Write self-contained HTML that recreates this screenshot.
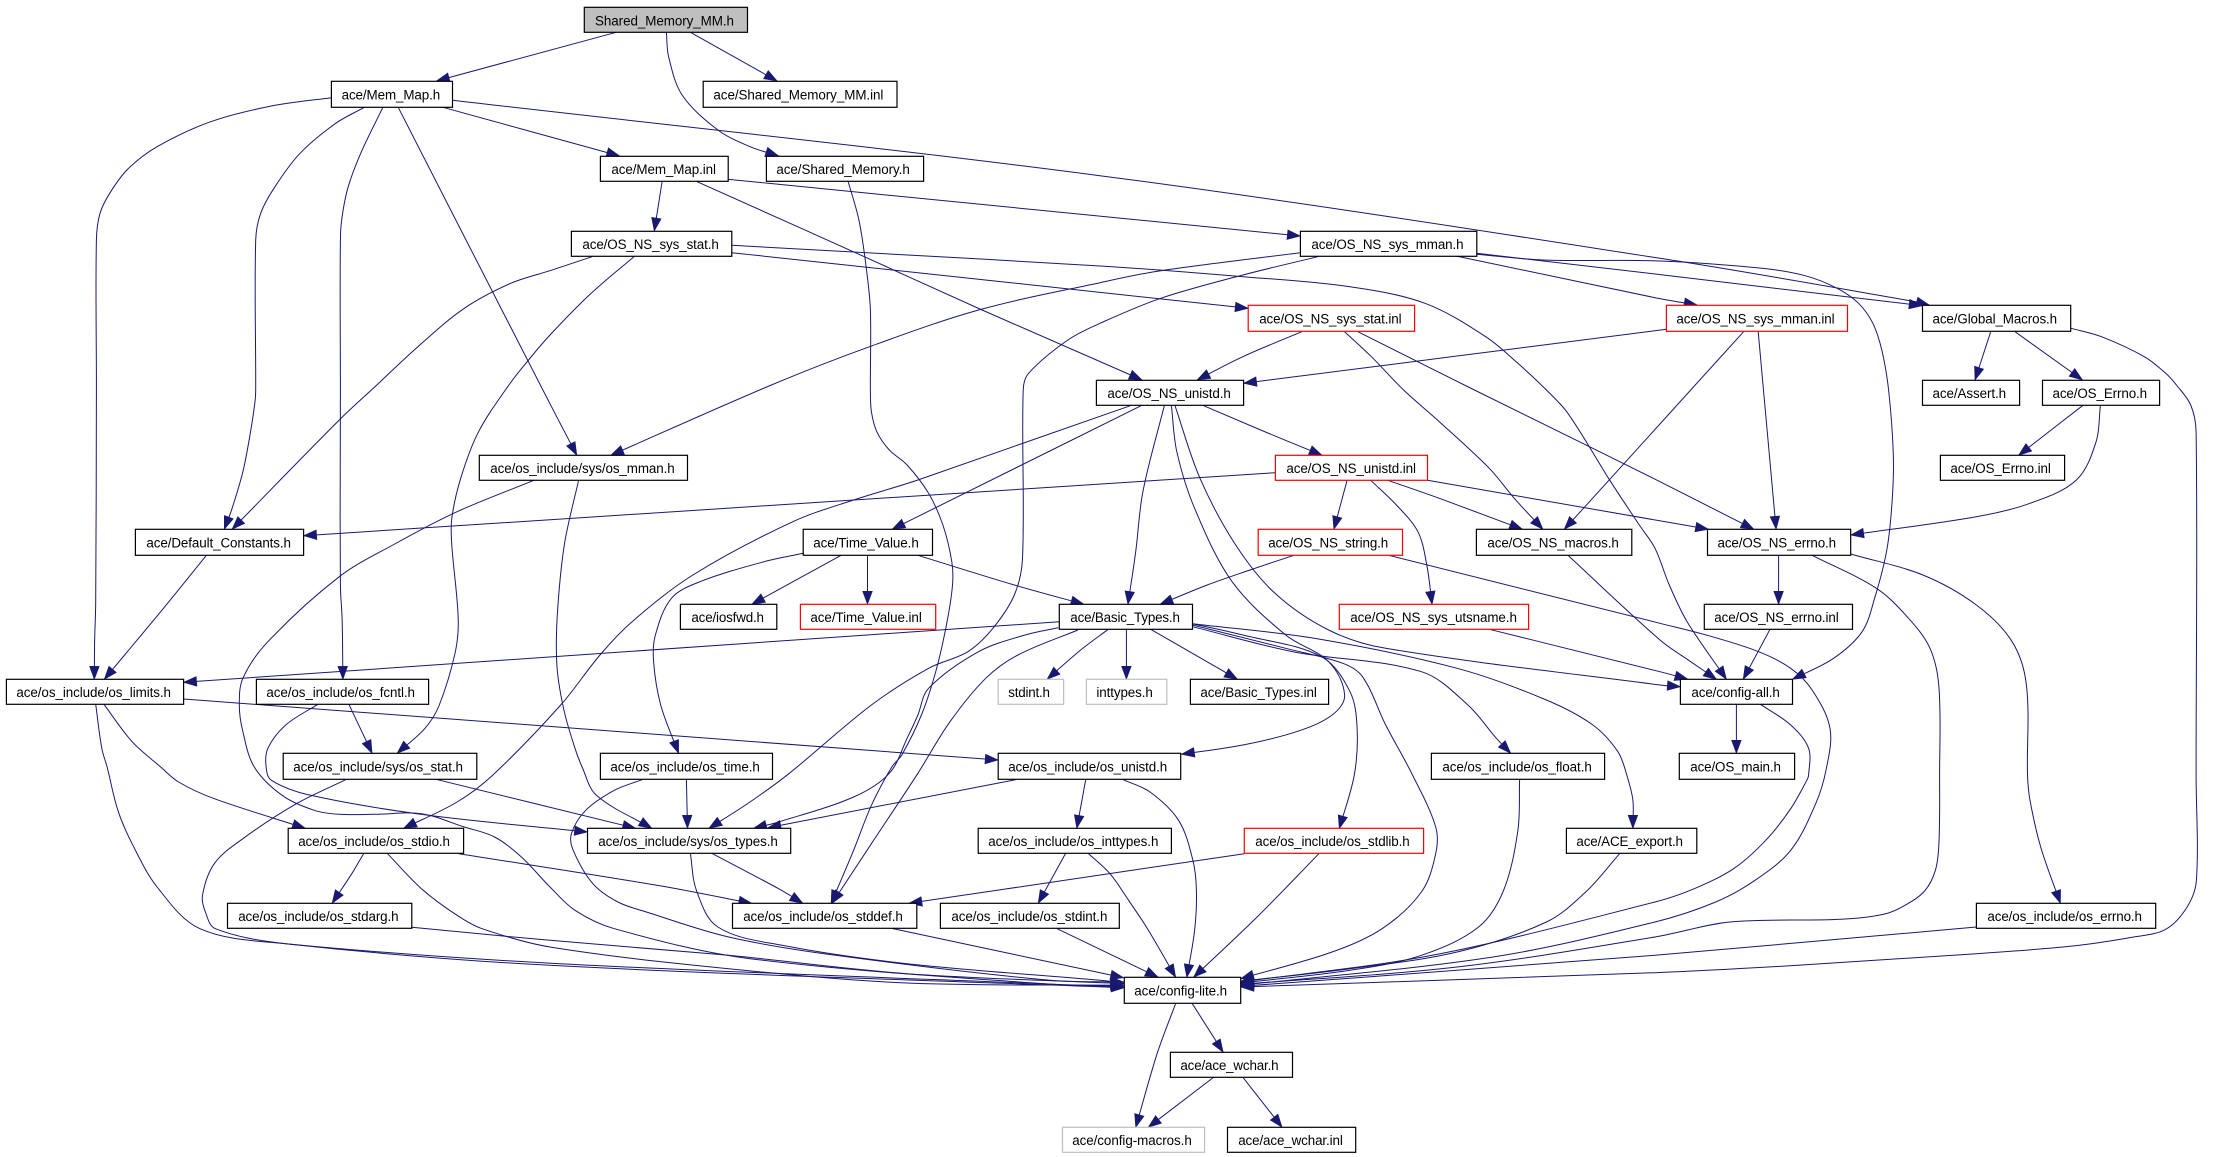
<!DOCTYPE html>
<html>
<head>
<meta charset="utf-8">
<style>
html,body{margin:0;padding:0;background:#fff}
svg{display:block}
rect{fill:#fff;stroke:#000;stroke-width:1.2}
rect.r{stroke:#f00}
rect.g{stroke:#bfbfbf}
rect.root{fill:#bfbfbf}
text{font-family:"Liberation Sans",sans-serif;font-size:13.4px;fill:#000}
#e path{fill:none;stroke:#191970;stroke-width:1}
#e polygon{fill:#191970;stroke:#191970;stroke-width:.6}
</style>
</head>
<body>
<svg id="s" xmlns="http://www.w3.org/2000/svg" width="2215" height="1157" viewBox="0 0 2215 1157">
<g id="e"></g>
<g id="n">
<rect class="root" x="584.3" y="7.3" width="163.2" height="25"/><text x="595" y="25.3" textLength="139" lengthAdjust="spacing">Shared_Memory_MM.h</text>
<rect x="331.4" y="81.3" width="121.1" height="26"/><text x="341.6" y="99.3" textLength="98.6" lengthAdjust="spacing">ace/Mem_Map.h</text>
<rect x="703.2" y="81.3" width="193.8" height="26"/><text x="713.4" y="99.3" textLength="170" lengthAdjust="spacing">ace/Shared_Memory_MM.inl</text>
<rect x="600.4" y="156.3" width="127.8" height="25"/><text x="611.4" y="174" textLength="104.6" lengthAdjust="spacing">ace/Mem_Map.inl</text>
<rect x="766.4" y="156.3" width="157.2" height="25"/><text x="776.4" y="174" textLength="133.4" lengthAdjust="spacing">ace/Shared_Memory.h</text>
<rect x="571.4" y="231.3" width="160.4" height="25"/><text x="582.4" y="249" textLength="136.4" lengthAdjust="spacing">ace/OS_NS_sys_stat.h</text>
<rect x="1300.4" y="231.3" width="176.4" height="25"/><text x="1311.4" y="249" textLength="152.2" lengthAdjust="spacing">ace/OS_NS_sys_mman.h</text>
<rect class="r" x="1248.2" y="305.3" width="166.4" height="26"/><text x="1259.2" y="323.3" textLength="142.4" lengthAdjust="spacing">ace/OS_NS_sys_stat.inl</text>
<rect class="r" x="1666.4" y="305.3" width="181.1" height="26"/><text x="1676.4" y="323.3" textLength="158.2" lengthAdjust="spacing">ace/OS_NS_sys_mman.inl</text>
<rect x="1922.5" y="305.3" width="148.2" height="26"/><text x="1932.5" y="323.3" textLength="124.6" lengthAdjust="spacing">ace/Global_Macros.h</text>
<rect x="1096.4" y="380.3" width="147.2" height="25"/><text x="1107.4" y="398" textLength="123.4" lengthAdjust="spacing">ace/OS_NS_unistd.h</text>
<rect x="1922.5" y="380.3" width="97.1" height="25"/><text x="1932.5" y="398" textLength="73.6" lengthAdjust="spacing">ace/Assert.h</text>
<rect x="2042.5" y="380.3" width="117.1" height="25"/><text x="2052.5" y="398" textLength="94.6" lengthAdjust="spacing">ace/OS_Errno.h</text>
<rect x="479.3" y="455.3" width="208.2" height="25"/><text x="490.3" y="473" textLength="184.4" lengthAdjust="spacing">ace/os_include/sys/os_mman.h</text>
<rect class="r" x="1275.4" y="455.3" width="152.1" height="25"/><text x="1286.4" y="473" textLength="129.6" lengthAdjust="spacing">ace/OS_NS_unistd.inl</text>
<rect x="1940.4" y="455.3" width="124.2" height="25"/><text x="1950.4" y="473" textLength="100.4" lengthAdjust="spacing">ace/OS_Errno.inl</text>
<rect x="135.4" y="529.3" width="168.2" height="26"/><text x="146.4" y="547.3" textLength="144.6" lengthAdjust="spacing">ace/Default_Constants.h</text>
<rect x="803.2" y="529.3" width="129.3" height="26"/><text x="813.2" y="547.3" textLength="105.6" lengthAdjust="spacing">ace/Time_Value.h</text>
<rect class="r" x="1258.2" y="529.3" width="144.3" height="26"/><text x="1268.2" y="547.3" textLength="120" lengthAdjust="spacing">ace/OS_NS_string.h</text>
<rect x="1476.4" y="529.3" width="155.4" height="26"/><text x="1487.4" y="547.3" textLength="131.4" lengthAdjust="spacing">ace/OS_NS_macros.h</text>
<rect x="1707.5" y="529.3" width="143.2" height="26"/><text x="1717.5" y="547.3" textLength="118.6" lengthAdjust="spacing">ace/OS_NS_errno.h</text>
<rect x="680.4" y="604.3" width="96.4" height="25"/><text x="691.4" y="622" textLength="72.6" lengthAdjust="spacing">ace/iosfwd.h</text>
<rect class="r" x="800.4" y="604.3" width="135.3" height="25"/><text x="810.4" y="622" textLength="111.4" lengthAdjust="spacing">ace/Time_Value.inl</text>
<rect x="1059.3" y="604.3" width="133.2" height="25"/><text x="1070.3" y="622" textLength="109.6" lengthAdjust="spacing">ace/Basic_Types.h</text>
<rect class="r" x="1339.3" y="604.3" width="189.3" height="25"/><text x="1350.3" y="622" textLength="166.6" lengthAdjust="spacing">ace/OS_NS_sys_utsname.h</text>
<rect x="1704.3" y="604.3" width="148.2" height="25"/><text x="1714.3" y="622" textLength="124.4" lengthAdjust="spacing">ace/OS_NS_errno.inl</text>
<rect x="6.4" y="679.3" width="177.2" height="25"/><text x="16.4" y="697" textLength="154.6" lengthAdjust="spacing">ace/os_include/os_limits.h</text>
<rect x="256.4" y="679.3" width="172.2" height="25"/><text x="266.4" y="697" textLength="148.6" lengthAdjust="spacing">ace/os_include/os_fcntl.h</text>
<rect class="g" x="998.2" y="679.3" width="65.4" height="25"/><text x="1008.2" y="697" textLength="41.8" lengthAdjust="spacing">stdint.h</text>
<rect class="g" x="1086.4" y="679.3" width="80.4" height="25"/><text x="1096.4" y="697" textLength="56.4" lengthAdjust="spacing">inttypes.h</text>
<rect x="1190.4" y="679.3" width="138.2" height="25"/><text x="1200.4" y="697" textLength="116.4" lengthAdjust="spacing">ace/Basic_Types.inl</text>
<rect x="1680.4" y="679.3" width="112.1" height="25"/><text x="1691.4" y="697" textLength="88.4" lengthAdjust="spacing">ace/config-all.h</text>
<rect x="283.2" y="753.3" width="193.6" height="26"/><text x="293.2" y="771.3" textLength="169.8" lengthAdjust="spacing">ace/os_include/sys/os_stat.h</text>
<rect x="600.4" y="753.3" width="172.1" height="26"/><text x="610.4" y="771.3" textLength="149.4" lengthAdjust="spacing">ace/os_include/os_time.h</text>
<rect x="998.2" y="753.3" width="182.5" height="26"/><text x="1008.2" y="771.3" textLength="159" lengthAdjust="spacing">ace/os_include/os_unistd.h</text>
<rect x="1431.4" y="753.3" width="173.2" height="26"/><text x="1442.4" y="771.3" textLength="149.4" lengthAdjust="spacing">ace/os_include/os_float.h</text>
<rect x="1679.3" y="753.3" width="115.3" height="26"/><text x="1690.3" y="771.3" textLength="90.6" lengthAdjust="spacing">ace/OS_main.h</text>
<rect x="288.2" y="828.3" width="175.4" height="25"/><text x="298.2" y="846" textLength="151.8" lengthAdjust="spacing">ace/os_include/os_stdio.h</text>
<rect x="587.5" y="828.3" width="203.2" height="25"/><text x="598.2" y="846" textLength="179.6" lengthAdjust="spacing">ace/os_include/sys/os_types.h</text>
<rect x="978.2" y="828.3" width="193.2" height="25"/><text x="988.2" y="846" textLength="170.2" lengthAdjust="spacing">ace/os_include/os_inttypes.h</text>
<rect class="r" x="1244.3" y="828.3" width="179.3" height="25"/><text x="1255.3" y="846" textLength="154.4" lengthAdjust="spacing">ace/os_include/os_stdlib.h</text>
<rect x="1566.4" y="828.3" width="130.4" height="25"/><text x="1576.4" y="846" textLength="106.6" lengthAdjust="spacing">ace/ACE_export.h</text>
<rect x="227.5" y="903.3" width="184.3" height="25"/><text x="238.2" y="921" textLength="160.4" lengthAdjust="spacing">ace/os_include/os_stdarg.h</text>
<rect x="732.5" y="903.3" width="184.3" height="25"/><text x="743.2" y="921" textLength="159.6" lengthAdjust="spacing">ace/os_include/os_stddef.h</text>
<rect x="940.4" y="903.3" width="178.9" height="25"/><text x="951.4" y="921" textLength="156" lengthAdjust="spacing">ace/os_include/os_stdint.h</text>
<rect x="1976.4" y="903.3" width="179.3" height="25"/><text x="1987.4" y="921" textLength="154.6" lengthAdjust="spacing">ace/os_include/os_errno.h</text>
<rect x="1124.3" y="977.3" width="116.4" height="26"/><text x="1134.3" y="995.3" textLength="92.8" lengthAdjust="spacing">ace/config-lite.h</text>
<rect x="1170.4" y="1052.3" width="122.1" height="25"/><text x="1180.4" y="1070" textLength="98.2" lengthAdjust="spacing">ace/ace_wchar.h</text>
<rect class="g" x="1062.5" y="1127.3" width="142.1" height="25"/><text x="1072.2" y="1145" textLength="119.6" lengthAdjust="spacing">ace/config-macros.h</text>
<rect x="1227.5" y="1127.3" width="128.2" height="25"/><text x="1238.2" y="1145" textLength="104.6" lengthAdjust="spacing">ace/ace_wchar.inl</text>
</g>
</svg>
<script>
var E=`2 185,97 1 1222,243
2 393,97 636,243
2 326,97 332,170 370,285 470,390 560,440 640,468
1 1240,322 2 195,468
1 1267,301 3 0,527 1568,775 4 730,905 768,915
3 1055,760 4 0,822 748,917
3 1055,763 1240,780 1568,783 4 300,805 420,827 510,865 570,910 610,970 635,1050 654,1170 8 667,200 665,330 650,490 615,640 580,740 500,820 385,883
3 1000,769 4 0,893 118,915
1 928,293 760,318 590,365 440,440 360,505 310,575 280,640 270,720 270,1170 5 268,650 265,770 264,883
1 1020,322 940,370 840,460 770,560 730,640 716,720 716,1170 5 714,50 700,150 680,260 650,370 628,433
1 1072,322 1010,460 975,560 958,650 953,720 953,1170 5 953,600 958,700 960,883
1 1115,322 1520,1170 6 75,211
2 314,545 292,693
2 499,538 3 561,708
2 412,545 880,770 1210,930 3 118,1140
2 835,545 865,660 885,800 897,930 897,1170 6 900,80 915,140 950,195 1000,240 1060,325 1100,420 1125,530 1127,600 1110,720 1080,860 1040,990 985,1110 10 957,0 900,115 850,250 787,409
6 1423,728 1330,750 1200,800 1060,910 1030,990 1000,1060 950,1165 10 850,90 640,165 570,184
6 1478,735 1310,810 1220,880 1120,1010 1030,1165 10 900,230 790,409
3 561,758 170,812 0,848 2 1200,930 895,1040 6 620,0 170,211
3 610,770 400,825 170,895 0,970 2 1450,1020 1340,1120 1325,1170 6 1323,520 1300,630 1240,730 1170,800 1060,850 900,960 670,1165 10 560,105 445,184
2 509,736 3 0,798 400,830 700,860 910,910 1080,1010 1170,1090 1250,1170 7 1310,85 1430,290 1510,420 8 0,490 40,600 90,710 200,883
2 509,758 3 415,925
2 118,770 0,812 1 1430,850 1300,925 1170,1040 5 1055,0 950,105 650,433
2 235,770 110,885 0,1005 1 1480,1080 5 1425,0 1340,140 1290,280 1265,400 1265,480 1283,700 1275,800 1230,960 1190,1030 1112,1105
3 565,995 400,1070 272,1140
3 685,995 760,1070 850,1170 7 950,110 1090,250 1160,340 1240,433
3 722,995 7 1020,0 1568,290 8 277,433
4 32,988 3 402,1150
4 248,995 100,1170 7 1430,280 1300,433
4 289,995 8 339,433
4 940,995 896,1140
4 1008,995 1197,1140
4 1165,985 1250,1010 1370,1070 1430,1120 8 1460,0 1500,60 1515,140 1515,1170 12 1516,340 1490,420 1430,487 1340,510 1170,537 900,560 400,595 0,617 11 394,660
8 1197,62 1018,211
8 1247,62 1235,170 1180,285 1050,355 900,395 548,450
7 85,62 6 1030,285 850,345 680,410 400,570 230,710 140,810 30,960 5 1380,1170 9 1280,105 1130,184
7 115,62 6 958,433
7 180,62 120,320 100,500 78,658
7 290,62 450,135 622,211
7 200,62 215,200 265,370 370,590 520,750 640,830 685,930 650,990 550,1040 400,1080 228,1108
7 210,62 280,280 380,480 490,625 640,735 800,790 1568,900 8 71,905
7 491,263 5 850,452
7 692,286 655,433
7 758,286 830,360 890,440 915,540 930,658
7 806,286 950,340 1183,433
7 917,286 8 150,433
7 543,511 420,555 300,600 168,658
7 808,511 1568,715 8 150,752 290,800 380,850 440,915 490,1030 480,1150 12 450,110 380,250 280,340 170,405 0,465 11 1100,570 394,655
8 295,958 380,1020 430,1090 430,1170 12 425,40 380,125 310,220 220,305 110,365 0,405 11 930,565 394,645
8 440,511 620,610 710,700 770,790 795,905 797,1170 12 795,230 785,310 755,372 700,415 640,442 520,457 210,465 0,510 11 1000,600 394,652
8 548,507 750,570 900,660 1000,770 1040,900 1043,1170 12 1050,100 1080,240 1135,409
12 900,480 480,520 0,565 11 394,658
8 346,511 346,658
8 322,733 247,883
7 1090,733 1568,860 8 92,883
7 1310,511 1568,765 8 100,830 172,883
8 228,958 228,1105
6 815,511 565,658
6 889,511 889,658
6 1030,511 1300,600 1495,658
6 709,505 600,530 420,590 340,640 295,750 290,830 310,960 360,1105
6 1563,733 1480,800 1392,883
7 74,733 74,883
7 142,733 385,883
7 259,725 540,800 900,860 1030,960 1110,1060 1150,1105
7 259,720 520,790 680,835 735,875 800,1020 875,1170 11 940,180 940,260 900,375 790,485 650,555 394,635
7 259,716 400,750 620,815 700,920 720,1030 712,1170 11 670,185
7 259,716 600,760 1000,850 1250,945 1380,1020 1450,1100 1475,1170 11 1492,100 1492,184
6 1426,710 5 514,892
5 514,942 6 1255,1125
5 268,958 285,1090 9 300,0 330,130 370,230 440,360 560,485 800,530 1568,590 11 68,660
5 291,958 370,1070 9 450,0 500,45 600,95 855,184
5 977,958 1042,1105
5 890,958 800,1020 750,1090 9 745,0 760,40 870,85 1200,145 10 105,195
6 80,286 40,480 20,700 20,850 40,980 70,1090 10 90,0 130,85 285,184
5 1495,286 1280,380 1100,480 950,575 750,770 680,880 670,960 680,1040 9 712,0 790,85 880,130 950,142 1050,142 1180,140 1300,180 1385,210 1460,270 10 0,360 70,430 180,485 560,575 1450,655 11 66,655
9 1225,38 10 240,184
9 968,38 830,110 680,215 600,290 567,385 575,435 603,485 800,530 10 0,595 11 68,662
10 382,38 385,184
10 258,38 180,70 100,130 60,200 65,250 120,350 190,405 270,435 500,510 800,565 1400,640 11 66,645
10 1303,38 610,182
10 1500,38 1475,184
11 65,38 140,75 220,160 260,280 270,370 265,490 243,631
9 1018,260 985,320 930,409
9 1285,260 10 300,355 565,409
9 1085,260 1180,365 1280,445 1350,485 10 0,540 500,605 1000,648 11 66,655
9 1153,481 10 0,520 500,565 1000,620 11 66,650
10 455,260 640,365 708,409
10 393,260 410,370 470,480 650,535 1000,590 11 0,640 66,648
10 955,484 11 66,632
10 1420,485 11 163,631
11 404,260 10 1005,409
11 613,260 440,450 262,631
10 1443,260 1367,409
10 1508,260 1568,320 11 80,400 130,480 212,631
11 1175,38 1170,190 1130,370 1060,480 900,565 700,610 394,648
11 1455,260 1360,375 1250,465 1000,555 700,605 394,643
5 578,511 450,680 292,883
11 212,709 160,860 100,1081
11 258,709 345,856
11 318,931 135,1081
11 400,931 510,1081`;
var OX=[0,550,1100,1655],OY=[0,385,767],g=document.getElementById('e'),NS='http://www.w3.org/2000/svg';
function f(v){return v.toFixed(1)}
function tan(a,b){var m=Math.hypot(b[0]-a[0],b[1]-a[1])||1;return [(b[0]-a[0])/m,(b[1]-a[1])/m]}
E.split('\n').forEach(function(l){
  var t=1,P=[];
  l.trim().split(/\s+/).forEach(function(k){
    if(k.indexOf(',')<0){t=+k;return}
    var a=k.split(','),c=(t-1)%4,r=Math.floor((t-1)/4);
    P.push([OX[c]+a[0]/2.8,OY[r]+a[1]/3]);
  });
  var d='M'+f(P[0][0])+' '+f(P[0][1]),n=P.length;
  for(var i=0;i<n-1;i++){
    var p0=P[Math.max(i-1,0)],p1=P[i],p2=P[i+1],p3=P[Math.min(i+2,n-1)];
    var len=Math.hypot(p2[0]-p1[0],p2[1]-p1[1]);
    var t1=tan(p0,p2),t2=tan(p1,p3),h=len/3;
    d+='C'+f(p1[0]+t1[0]*h)+' '+f(p1[1]+t1[1]*h)+' '+f(p2[0]-t2[0]*h)+' '+f(p2[1]-t2[1]*h)+' '+f(p2[0])+' '+f(p2[1]);
  }
  var e=document.createElementNS(NS,'path');e.setAttribute('d',d);g.appendChild(e);
  var a=P[n-1],b=P[n-2],m=Math.hypot(a[0]-b[0],a[1]-b[1])||1,u=(a[0]-b[0])/m,v=(a[1]-b[1])/m,L=13,W=4.8;
  var q=document.createElementNS(NS,'polygon');
  q.setAttribute('points',f(a[0])+','+f(a[1])+' '+f(a[0]-u*L-v*W)+','+f(a[1]-v*L+u*W)+' '+f(a[0]-u*L+v*W)+','+f(a[1]-v*L-u*W));
  g.appendChild(q);
});
</script>
</body>
</html>
